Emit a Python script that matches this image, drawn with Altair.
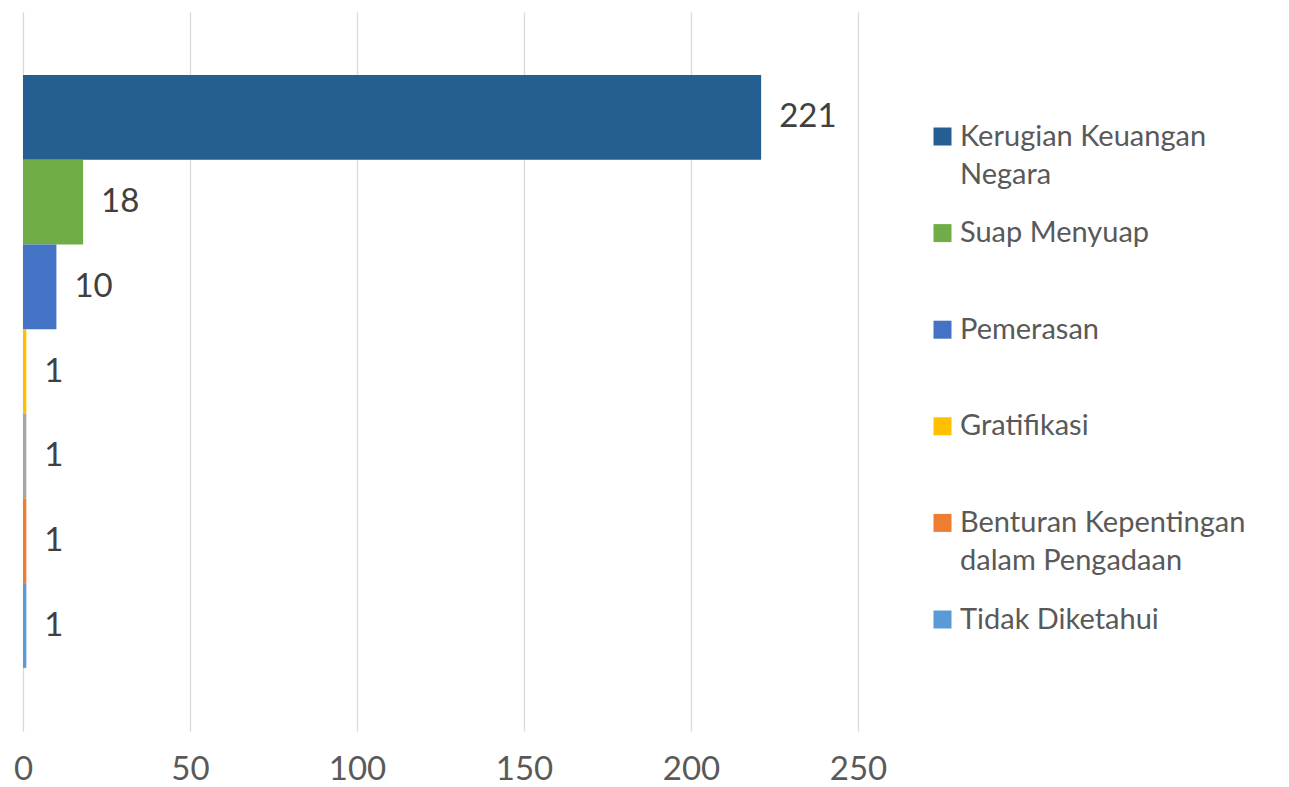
import altair as alt
import pandas as pd

categories = [
    "Kerugian Keuangan Negara",
    "Suap Menyuap",
    "Pemerasan",
    "Gratifikasi",
    "Lainnya",
    "Benturan Kepentingan dalam Pengadaan",
    "Tidak Diketahui",
]
values = [221, 18, 10, 1, 1, 1, 1]
colors = ["#255E91", "#70AD47", "#4472C4", "#FFC000", "#A5A5A5", "#ED7D31", "#5B9BD5"]
legend_entries = [
    "Kerugian Keuangan Negara",
    "Suap Menyuap",
    "Pemerasan",
    "Gratifikasi",
    "Benturan Kepentingan dalam Pengadaan",
    "Tidak Diketahui",
]
legend_lines = {
    "Kerugian Keuangan Negara": ["Kerugian Keuangan", "Negara"],
    "Benturan Kepentingan dalam Pengadaan": ["Benturan Kepentingan", "dalam Pengadaan"],
}
x_ticks = [0, 50, 100, 150, 200, 250]

df = pd.DataFrame({"kategori": categories, "jumlah": values})

FONT = "Lato"

label_expr = ""
for k, lines in legend_lines.items():
    arr = "[" + ",".join("'" + l + "'" for l in lines) + "]"
    label_expr += f"datum.label == '{k}' ? {arr} : "
label_expr += "datum.label"

y_enc = alt.Y(
    "kategori:N",
    sort=categories,
    axis=None,
    scale=alt.Scale(paddingInner=0, paddingOuter=0.745),
)

bars = alt.Chart(df).mark_bar().encode(
    x=alt.X(
        "jumlah:Q",
        scale=alt.Scale(domain=[0, 250], nice=False),
        axis=alt.Axis(
            values=x_ticks,
            title=None,
            domain=False,
            ticks=False,
            grid=True,
            gridColor="#D9D9D9",
            gridWidth=1.3,
            labelFont=FONT,
            labelFontSize=33,
            labelColor="#595959",
            labelPadding=22,
            labelFlush=False,
        ),
    ),
    y=y_enc,
    color=alt.Color(
        "kategori:N",
        scale=alt.Scale(domain=categories, range=colors),
        legend=alt.Legend(
            values=legend_entries,
            title=None,
            orient="none",
            legendX=905,
            legendY=110,
            symbolType="square",
            symbolSize=324,
            symbolStrokeWidth=0,
            symbolOpacity=1,
            labelFont=FONT,
            labelFontSize=29,
            labelColor="#595959",
            labelOffset=3,
            labelLimit=400,
            labelExpr=label_expr,
            rowPadding=28.6,
            gridAlign="all",
            padding=0,
        ),
    ),
)

labels = alt.Chart(df).mark_text(
    align="left", baseline="middle", dx=18, font=FONT, fontSize=33, color="#404040"
).encode(
    x="jumlah:Q",
    y=y_enc,
    text="jumlah:Q",
)

chart = (
    alt.layer(bars, labels)
    .properties(
        width=835,
        height=719,
        autosize=alt.AutoSizeParams(type="none"),
        padding={"left": 15, "top": 4, "right": 423, "bottom": 56},
    )
    .configure(style={"guide-label": {"lineHeight": 38}})
    .configure_view(stroke=None)
)

chart.save("out.html", embed_options={"renderer": "svg", "actions": False})
